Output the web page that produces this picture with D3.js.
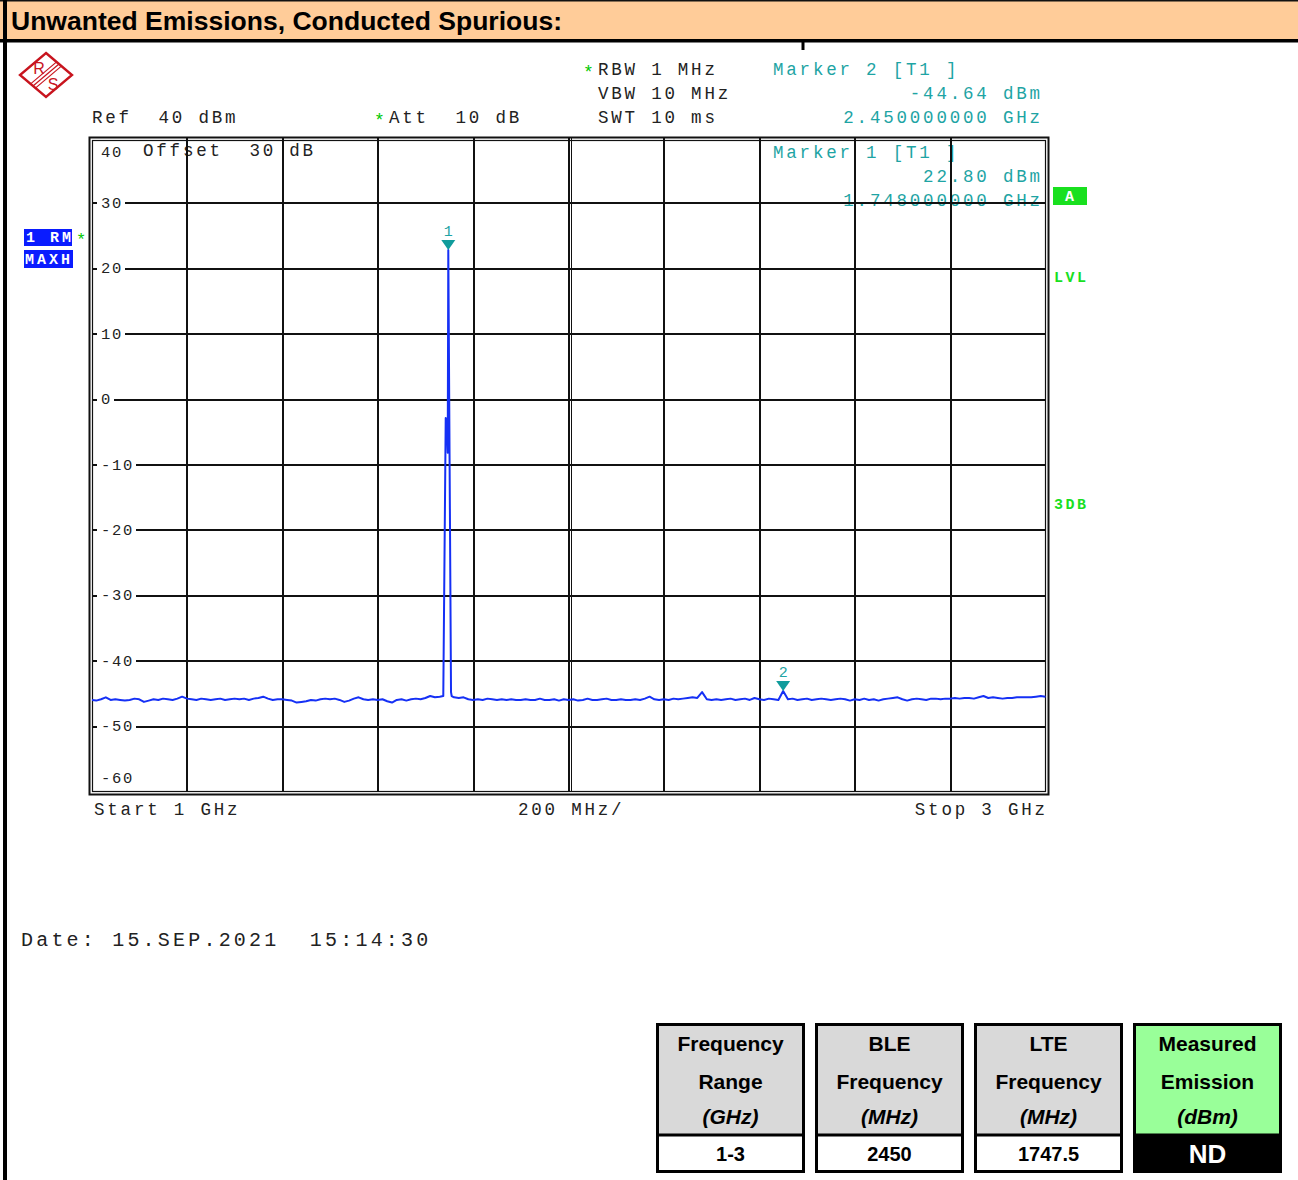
<!DOCTYPE html>
<html>
<head>
<meta charset="utf-8">
<script src="https://cdn.jsdelivr.net/npm/d3@7"></script>
<style>
  html, body { margin: 0; padding: 0; background: #fff; }
  svg { display: block; }
</style>
</head>
<body>
<svg id="chart" width="1298" height="1180"></svg>
<script>
// ---- Sweep settings ----
const sweepStartGHz = 1.0;
const sweepStopGHz = 3.0;
const sweepStepGHz = 0.01;
const refLevelDbm = 40;
const bottomLevelDbm = -60;
const freqTicksGHz = [1.0, 1.2, 1.4, 1.6, 1.8, 2.0, 2.2, 2.4, 2.6, 2.8, 3.0];
const levelTicksDbm = [30, 20, 10, 0, -10, -20, -30, -40, -50];

// ---- Trace 1 (max hold), one level per 10 MHz sweep point, 1.00 .. 3.00 GHz ----
const floorLevelsDbm = [
  -46.0, -46.1, -45.9, -45.6, -46.0, -45.9, -46.0, -46.1, -46.0, -45.8,
  -45.9, -46.3, -46.1, -45.9, -46.0, -45.8, -45.9, -46.0, -45.8, -45.5,
  -45.8, -45.9, -46.0, -45.8, -45.9, -46.0, -45.9, -45.8, -46.0, -45.9,
  -45.8, -45.9, -45.8, -46.0, -45.8, -45.7, -45.5, -45.8, -46.0, -45.9,
  -45.9, -46.0, -46.1, -46.4, -46.3, -46.2, -46.0, -46.1, -45.9, -45.8,
  -45.9, -45.8, -46.0, -46.3, -46.1, -45.8, -45.6, -45.9, -46.0, -45.9,
  -46.0, -45.9, -46.2, -46.4, -46.0, -45.9, -46.1, -45.9, -45.8, -45.9,
  -45.7, -45.4, -45.6, -45.5, -45.4, -45.5, -45.6, -45.7, -45.6, -45.9,
  -46.0, -45.9, -46.0, -45.8, -45.9, -46.0, -45.9, -46.0, -45.9, -46.0,
  -46.0, -45.9, -46.0, -46.0, -45.8, -46.0, -46.0, -45.9, -46.1, -45.9,
  -46.0, -45.9, -46.1, -46.0, -45.8, -46.0, -46.0, -45.9, -45.8, -46.0,
  -46.0, -45.9, -46.0, -46.0, -45.9, -46.0, -45.8, -45.5, -45.9, -46.0,
  -45.9, -46.0, -45.8, -45.9, -45.8, -45.7, -45.6, -45.7, -44.8, -45.9,
  -46.0, -45.9, -46.0, -45.9, -45.8, -46.0, -45.9, -45.8, -46.0, -45.7,
  -45.9, -46.0, -45.8, -45.9, -46.0, -44.64, -45.9, -45.8, -46.0, -45.9,
  -45.8, -46.0, -45.9, -45.8, -45.9, -46.0, -45.9, -45.8, -45.9, -46.1,
  -45.9, -46.0, -45.8, -46.0, -45.9, -46.1, -45.9, -45.8, -45.7, -45.6,
  -45.9, -46.1, -45.9, -45.8, -45.9, -46.0, -45.8, -45.8, -45.9, -45.8,
  -45.8, -45.7, -45.8, -45.7, -45.7, -45.8, -45.6, -45.4, -45.7, -45.6,
  -45.7, -45.8, -45.7, -45.7, -45.6, -45.6, -45.6, -45.6, -45.5, -45.4,
  -45.5
];

// Carrier detail around 1.748 GHz (finer sweep points)
const carrierFreqsGHz = [1.7375, 1.7426, 1.7447, 1.7468, 1.7480, 1.7537, 1.7551];
const carrierLevelsDbm = [-45.4, -2.9, -3.2, -8.2, 22.80, -44.8, -45.4];

// ---- Markers ----
const markerNames = ["1", "2"];
const markerFreqsGHz = [1.748, 2.45];
const markerLevelsDbm = [22.80, -44.64];

// ---- Summary table ----
const tableHeaderLines = [
  ["Frequency", "Range", "(GHz)"],
  ["BLE", "Frequency", "(MHz)"],
  ["LTE", "Frequency", "(MHz)"],
  ["Measured", "Emission", "(dBm)"]
];
const tableValues = ["1-3", "2450", "1747.5", "ND"];

// ---- Colours ----
const TEAL = "#1ea4a4";
const TEAL_MARK = "#109c9c";
const GREEN = "#19e01f";
const BLUE = "#0a1cff";
const TRACE = "#1530f5";

const svg = d3.select("#chart");
const MONO = "'Liberation Mono', 'DejaVu Sans Mono', monospace";
const SANS = "'Liberation Sans', Arial, sans-serif";

// Monospaced text with a fixed character pitch
function mono(g, str, x, y, o = {}) {
  const size = o.size || 17.5, pitch = o.pitch || 13.3;
  const adv = 0.6 * size, ls = pitch - adv;
  const n = str.length;
  const x0 = o.anchor === "end" ? x - ((n - 1) * pitch + adv) : x;
  return g.append("text")
    .attr("x", x0).attr("y", y)
    .attr("font-family", MONO)
    .attr("font-size", size)
    .attr("font-weight", o.weight || "normal")
    .attr("letter-spacing", ls)
    .attr("fill", o.fill || "#222")
    .attr("xml:space", "preserve")
    .style("white-space", "pre")
    .text(str);
}

// ---- Page frame and title band ----
svg.append("rect").attr("x", 0).attr("y", 0).attr("width", 1298).attr("height", 40).attr("fill", "#ffcc99");
svg.append("rect").attr("x", 0).attr("y", 0).attr("width", 1298).attr("height", 1.5).attr("fill", "#111");
svg.append("rect").attr("x", 0).attr("y", 39).attr("width", 1298).attr("height", 3.5).attr("fill", "#000");
svg.append("rect").attr("x", 3).attr("y", 0).attr("width", 4).attr("height", 1180).attr("fill", "#000");
svg.append("rect").attr("x", 801.5).attr("y", 42).attr("width", 3).attr("height", 8).attr("fill", "#000");
svg.append("text")
  .attr("x", 11).attr("y", 30)
  .attr("font-family", SANS).attr("font-weight", "bold").attr("font-size", 26)
  .attr("textLength", 551).attr("lengthAdjust", "spacingAndGlyphs")
  .attr("fill", "#000")
  .text("Unwanted Emissions, Conducted Spurious:");

// ---- R&S logo ----
const logo = svg.append("g").attr("transform", "translate(46,75)");
logo.append("path").attr("d", "M0,-22 L26,0 L0,22 L-26,0 Z")
  .attr("fill", "none").attr("stroke", "#c8141e").attr("stroke-width", 2.4);
[-3, 0, 3].forEach(o => {
  logo.append("line")
    .attr("x1", 13 + o * 0.7).attr("y1", -11 + o * 0.8)
    .attr("x2", -13 + o * 0.7).attr("y2", 11 + o * 0.8)
    .attr("stroke", "#c8141e").attr("stroke-width", 1.2);
});
logo.append("text").attr("x", -7).attr("y", -1).attr("text-anchor", "middle")
  .attr("font-family", SANS).attr("font-size", 16).attr("fill", "#c8141e").text("R");
logo.append("text").attr("x", 7).attr("y", 15).attr("text-anchor", "middle")
  .attr("font-family", SANS).attr("font-size", 16).attr("fill", "#c8141e").text("S");

// ---- Scales ----
const x = d3.scaleLinear().domain([sweepStartGHz, sweepStopGHz]).range([91.5, 1045.5]);
const y = d3.scaleLinear().domain([bottomLevelDbm, refLevelDbm]).range([791.5, 137.5]);

// ---- Settings text above the screen ----
const info = svg.append("g");
mono(info, "*", 583, 78, { size: 18, fill: "#00c800", pitch: 8 });
mono(info, "RBW 1 MHz", 598, 75);
mono(info, "VBW 10 MHz", 598, 99);
mono(info, "SWT 10 ms", 598, 123);
mono(info, "Ref  40 dBm", 92, 123);
mono(info, "*", 374, 126, { size: 18, fill: "#00c800", pitch: 8 });
mono(info, "Att  10 dB", 389, 123);

// Marker readouts (marker 2 above the screen, marker 1 inside it)
mono(info, "Marker " + markerNames[1] + " [T1 ]", 773, 75, { fill: TEAL });
mono(info, markerLevelsDbm[1].toFixed(2) + " dBm", 1040, 99, { fill: TEAL, anchor: "end" });
mono(info, markerFreqsGHz[1].toFixed(9) + " GHz", 1040, 123, { fill: TEAL, anchor: "end" });

const screenText = svg.append("g");
mono(screenText, "Offset  30 dB", 143, 156);
mono(screenText, "Marker " + markerNames[0] + " [T1 ]", 773, 158, { fill: TEAL });
mono(screenText, markerLevelsDbm[0].toFixed(2) + " dBm", 1040, 182, { fill: TEAL, anchor: "end" });
mono(screenText, markerFreqsGHz[0].toFixed(9) + " GHz", 1040, 206, { fill: TEAL, anchor: "end" });

// ---- Grid (drawn over the readouts, as on the analyser screen) ----
const grid = svg.append("g");
grid.append("g")
  .attr("transform", `translate(0,${y(bottomLevelDbm)})`)
  .call(d3.axisBottom(x).tickValues(freqTicksGHz.slice(1, -1)).tickSize(-(y(bottomLevelDbm) - y(refLevelDbm))).tickFormat(""))
  .call(g => g.select(".domain").remove())
  .call(g => g.selectAll("line").attr("stroke", "#111").attr("stroke-width", 2).attr("shape-rendering", "crispEdges"));
grid.append("line")
  .attr("x1", x(2.0) + 3).attr("x2", x(2.0) + 3)
  .attr("y1", y(refLevelDbm)).attr("y2", y(bottomLevelDbm))
  .attr("stroke", "#111").attr("stroke-width", 1.5).attr("shape-rendering", "crispEdges");
grid.append("g")
  .attr("transform", `translate(${x(sweepStartGHz)},0)`)
  .call(d3.axisLeft(y).tickValues(levelTicksDbm).tickSize(-(x(sweepStopGHz) - x(sweepStartGHz))).tickFormat(""))
  .call(g => g.select(".domain").remove())
  .call(g => g.selectAll("line").attr("stroke", "#111").attr("stroke-width", 2).attr("shape-rendering", "crispEdges"));

// Double frame of the screen
svg.append("rect").attr("x", 89.5).attr("y", 137.5).attr("width", 959).attr("height", 657)
  .attr("fill", "none").attr("stroke", "#111").attr("stroke-width", 2);
svg.append("rect").attr("x", 92.5).attr("y", 140.5).attr("width", 953).attr("height", 651)
  .attr("fill", "none").attr("stroke", "#111").attr("stroke-width", 1.2);

// Level labels with white backing
const lvl = svg.append("g");
levelTicksDbm.forEach(v => {
  const s = String(v);
  lvl.append("rect").attr("x", 97).attr("y", y(v) - 7).attr("width", s.length * 11 + 6).attr("height", 14).attr("fill", "#fff");
  mono(lvl, s, 101, y(v) + 5, { size: 15.5, pitch: 11 });
});
mono(lvl, String(refLevelDbm), 101, 157, { size: 15.5, pitch: 11 });
mono(lvl, String(bottomLevelDbm), 101, 783, { size: 15.5, pitch: 11 });

// ---- Trace ----
const floorPts = floorLevelsDbm.map((v, i) => [sweepStartGHz + i * sweepStepGHz, v])
  .filter(d => d[0] < carrierFreqsGHz[0] || d[0] > carrierFreqsGHz[carrierFreqsGHz.length - 1]);
const carrierPts = carrierFreqsGHz.map((f, i) => [f, carrierLevelsDbm[i]]);
const tracePts = floorPts.concat(carrierPts).sort((a, b) => a[0] - b[0]);

svg.append("defs").append("clipPath").attr("id", "screen")
  .append("rect").attr("x", 92).attr("y", 138).attr("width", 954).attr("height", 654);
svg.append("path")
  .datum(tracePts)
  .attr("clip-path", "url(#screen)")
  .attr("fill", "none")
  .attr("stroke", TRACE)
  .attr("stroke-width", 2)
  .attr("stroke-linejoin", "round")
  .attr("d", d3.line().x(d => x(d[0])).y(d => y(d[1])));

// ---- Markers ----
markerFreqsGHz.forEach((f, i) => {
  const mx = x(f), my = y(markerLevelsDbm[i]);
  svg.append("path").attr("d", `M${mx - 7},${my - 10} L${mx + 7},${my - 10} L${mx},${my} Z`).attr("fill", TEAL_MARK);
  svg.append("text").attr("x", mx).attr("y", my - 14).attr("text-anchor", "middle")
    .attr("font-family", MONO).attr("font-size", 15).attr("fill", TEAL).text(markerNames[i]);
});

// ---- Side indicators ----
const side = svg.append("g");
side.append("rect").attr("x", 24).attr("y", 229).attr("width", 48).attr("height", 17).attr("fill", BLUE);
mono(side, "1 RM", 26, 242, { size: 15, pitch: 12, fill: "#fff", weight: "bold" });
mono(side, "*", 76, 245, { size: 17, pitch: 8, fill: "#00c800" });
side.append("rect").attr("x", 24).attr("y", 250).attr("width", 49).attr("height", 18).attr("fill", BLUE);
mono(side, "MAXH", 25, 264, { size: 15, pitch: 12, fill: "#fff", weight: "bold" });

side.append("rect").attr("x", 1053).attr("y", 187).attr("width", 34).attr("height", 18).attr("fill", GREEN);
mono(side, "A", 1065, 201, { size: 15, pitch: 12, fill: "#fff", weight: "bold" });
mono(side, "LVL", 1054, 282, { size: 15, pitch: 11.5, fill: GREEN, weight: "bold" });
mono(side, "3DB", 1054, 509, { size: 15, pitch: 11.5, fill: GREEN, weight: "bold" });

// ---- Frequency axis annotation ----
const bottom = svg.append("g");
mono(bottom, "Start " + sweepStartGHz + " GHz", 94, 815);
mono(bottom, "200 MHz/", 518, 815);
mono(bottom, "Stop " + sweepStopGHz + " GHz", 1045, 815, { anchor: "end" });
mono(bottom, "Date: 15.SEP.2021  15:14:30", 21, 946, { size: 20, pitch: 15.2 });

// ---- Summary table ----
const boxX = [656, 815, 974, 1133];
const table = svg.append("g");
tableValues.forEach((val, i) => {
  const bx = boxX[i], bw = 149, top = 1023, sep = 1135, bot = 1173;
  const last = i === tableValues.length - 1;
  table.append("rect").attr("x", bx).attr("y", top).attr("width", bw).attr("height", sep - top)
    .attr("fill", last ? "#99ff99" : "#d9d9d9");
  table.append("rect").attr("x", bx).attr("y", sep).attr("width", bw).attr("height", bot - sep)
    .attr("fill", last ? "#000" : "#fff");
  table.append("rect").attr("x", bx + 1.5).attr("y", top + 1.5).attr("width", bw - 3).attr("height", bot - top - 3)
    .attr("fill", "none").attr("stroke", "#000").attr("stroke-width", 3);
  table.append("line").attr("x1", bx).attr("x2", bx + bw).attr("y1", sep).attr("y2", sep)
    .attr("stroke", "#000").attr("stroke-width", 3);
  tableHeaderLines[i].forEach((t, k) => {
    table.append("text").attr("x", bx + bw / 2).attr("y", [1051, 1089, 1124][k])
      .attr("text-anchor", "middle")
      .attr("font-family", SANS).attr("font-weight", "bold")
      .attr("font-style", k === 2 ? "italic" : "normal")
      .attr("font-size", 21).attr("fill", "#000").text(t);
  });
  table.append("text").attr("x", bx + bw / 2).attr("y", last ? 1163 : 1161)
    .attr("text-anchor", "middle")
    .attr("font-family", SANS).attr("font-weight", "bold")
    .attr("font-size", last ? 26 : 20).attr("fill", last ? "#fff" : "#000").text(val);
});
</script>
</body>
</html>
